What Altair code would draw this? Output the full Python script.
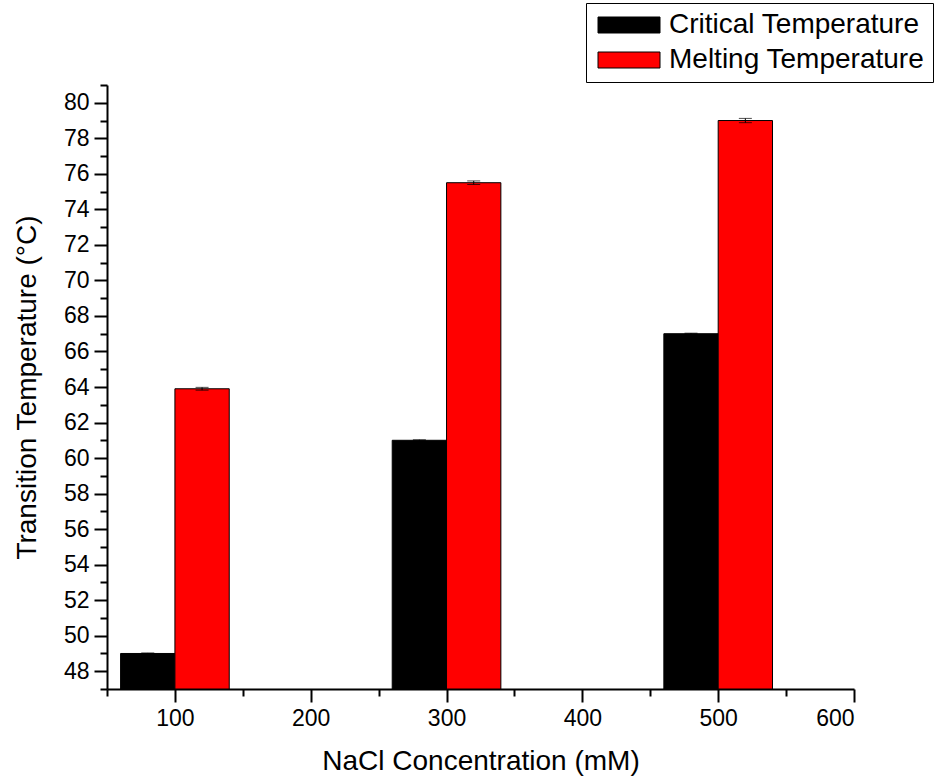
import altair as alt
import pandas as pd

# NaCl concentrations (mM) and transition temperatures (°C)
conc = [100, 300, 500]
critical = [49.0, 61.0, 67.0]
critical_err = [0.03, 0.03, 0.03]
melting = [63.9, 75.5, 79.0]
melting_err = [0.08, 0.1, 0.12]

series_names = ["Critical Temperature", "Melting Temperature"]
series_colors = ["#000000", "#ff0000"]

# axis tick positions: labelled major ticks and short unlabelled minor ticks
x_major = [100, 200, 300, 400, 500, 600]
x_minor = [50, 150, 250, 350, 450, 550]
y_major = list(range(48, 81, 2))
y_minor = list(range(47, 82, 2))

rows = []
for c, v, e in zip(conc, critical, critical_err):
    rows.append({"conc": c, "series": series_names[0], "value": v, "err": e})
for c, v, e in zip(conc, melting, melting_err):
    rows.append({"conc": c, "series": series_names[1], "value": v, "err": e})
df = pd.DataFrame(rows)

FONT = "Liberation Sans"
BAR_SPAN = 40  # each bar covers 40 mM on the x axis

x_scale = alt.Scale(domain=[50, 600], nice=False, zero=False)
y_scale = alt.Scale(domain=[47, 81], nice=False, zero=False)

common = dict(
    grid=False,
    domainColor="black", domainWidth=2,
    tickColor="black", tickWidth=2,
    labelOverlap=False,
)

x_axis = alt.Axis(
    orient="bottom",
    title="NaCl Concentration (mM)",
    values=x_major, tickCount=len(x_major), tickSize=13,
    labelFont=FONT, labelFontSize=23, labelColor="black", labelPadding=5,
    titleFont=FONT, titleFontSize=28, titleFontWeight="normal", titleColor="black",
    titlePadding=17,
    **common,
)
y_axis = alt.Axis(
    orient="left",
    title="Transition Temperature (°C)",
    values=y_major, tickCount=len(y_major), tickSize=13,
    labelFont=FONT, labelFontSize=23, labelColor="black", labelPadding=5,
    titleFont=FONT, titleFontSize=28, titleFontWeight="normal", titleColor="black",
    titlePadding=22,
    **common,
)
x_minor_axis = alt.Axis(
    orient="bottom", title=None, labels=False, domain=False,
    values=x_minor, tickCount=len(x_minor), tickSize=7,
    grid=False, tickColor="black", tickWidth=2,
)
y_minor_axis = alt.Axis(
    orient="left", title=None, labels=False, domain=False,
    values=y_minor, tickCount=len(y_minor), tickSize=7,
    grid=False, tickColor="black", tickWidth=2,
)

base = alt.Chart(df).transform_calculate(
    x0=f"datum.series === '{series_names[0]}' ? datum.conc - {BAR_SPAN} : datum.conc",
).transform_calculate(
    x1=f"datum.x0 + {BAR_SPAN}",
    xc=f"datum.x0 + {BAR_SPAN / 2}",
    lo="datum.value - datum.err",
    hi="datum.value + datum.err",
)

bars = base.mark_rect(stroke="black", strokeWidth=1).encode(
    x=alt.X("x0:Q", scale=x_scale, axis=x_axis),
    x2="x1:Q",
    y=alt.Y("value:Q", scale=y_scale, axis=y_axis),
    y2=alt.value("height"),
    color=alt.Color(
        "series:N",
        scale=alt.Scale(domain=series_names, range=series_colors),
        legend=alt.Legend(
            title=None,
            orient="none",
            legendX=479,
            legendY=-82,
            # wide flat swatch (62 x 16 px at symbolSize 400)
            symbolType="M-3.1,-0.8H3.1V0.8H-3.1Z",
            symbolSize=400,
            symbolOffset=21,
            symbolStrokeColor="black",
            symbolStrokeWidth=1,
            symbolOpacity=1,
            labelFont=FONT,
            labelFontSize=28,
            labelColor="black",
            labelOffset=26,
            rowPadding=7,
            padding=8,
            strokeColor="black",
            fillColor="white",
            labelLimit=400,
        ),
    ),
)

# error bar stems carry the minor-tick axes
err_rule = base.mark_rule(color="black", strokeWidth=1).encode(
    x=alt.X("xc:Q", scale=x_scale, axis=x_minor_axis),
    y=alt.Y("lo:Q", scale=y_scale, axis=y_minor_axis),
    y2="hi:Q",
)
err_caps_hi = base.mark_tick(color="black", orient="horizontal", size=13, thickness=1).encode(
    x=alt.X("xc:Q", axis=None),
    y=alt.Y("hi:Q", axis=None),
)
err_caps_lo = base.mark_tick(color="black", orient="horizontal", size=13, thickness=1).encode(
    x=alt.X("xc:Q", axis=None),
    y=alt.Y("lo:Q", axis=None),
)

chart = alt.layer(bars, err_rule, err_caps_hi, err_caps_lo).resolve_axis(
    x="independent", y="independent"
).properties(
    width=747,
    height=604,
    autosize=alt.AutoSizeParams(type="none"),
    padding={"left": 107, "top": 85, "right": 87, "bottom": 93},
    background="white",
).configure_view(stroke=None)

chart.save("out.html", embed_options={"renderer": "svg", "actions": False})
